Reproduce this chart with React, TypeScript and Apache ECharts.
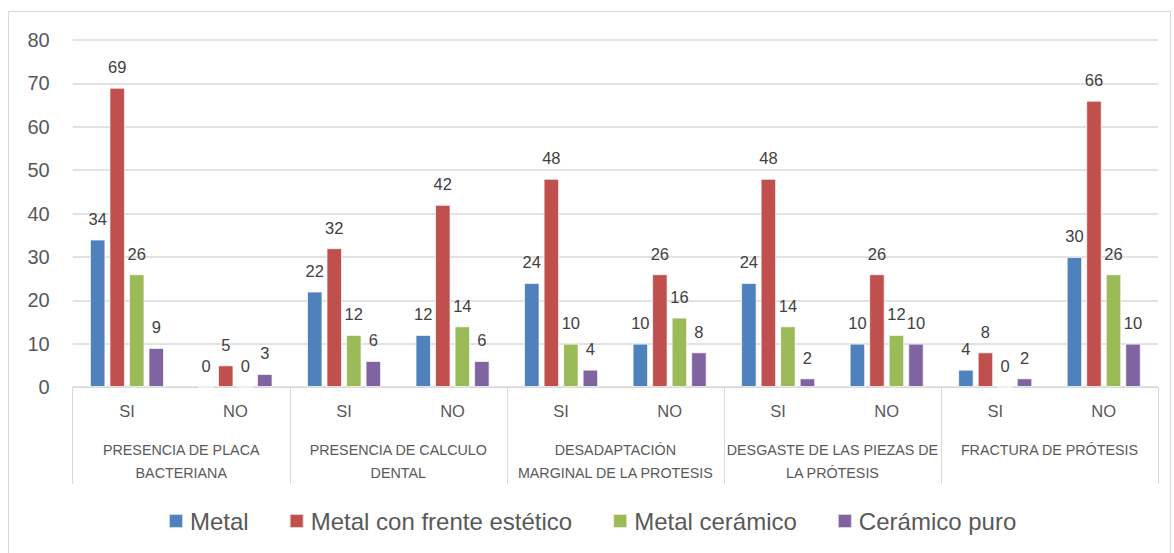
import React, { useEffect, useRef } from "react";
import * as echarts from "echarts";

const subCategories = ["SI", "NO", "SI", "NO", "SI", "NO", "SI", "NO", "SI", "NO"];
const groupCategories = [
  "PRESENCIA DE PLACA\nBACTERIANA",
  "PRESENCIA DE CALCULO\nDENTAL",
  "DESADAPTACIÓN\nMARGINAL DE LA PROTESIS",
  "DESGASTE DE LAS PIEZAS DE\nLA PRÓTESIS",
  "FRACTURA DE PRÓTESIS",
];
const seriesNames = ["Metal", "Metal con frente estético", "Metal cerámico", "Cerámico puro"];
const metal = [34, 0, 22, 12, 24, 10, 24, 10, 4, 30];
const metalFrente = [69, 5, 32, 42, 48, 26, 48, 26, 8, 66];
const metalCeramico = [26, 0, 12, 14, 10, 16, 14, 12, 0, 26];
const ceramicoPuro = [9, 3, 6, 6, 4, 8, 2, 10, 2, 10];
const colors = ["#4F81BD", "#C0504D", "#9BBB59", "#8064A2"];

const sans = "'Liberation Sans', Arial, sans-serif";

export default function App() {
  const ref = useRef<HTMLDivElement>(null);
  useEffect(() => {
    if (!ref.current) return;
    const chart = echarts.init(ref.current, null, { renderer: "svg" });
    const values = [metal, metalFrente, metalCeramico, ceramicoPuro];
    chart.setOption({
      animation: false,
      backgroundColor: "#ffffff",
      graphic: [
        {
          type: "rect",
          shape: { x: 8.5, y: 11.5, width: 1162, height: 560 },
          style: { fill: "none", stroke: "#d9d9d9", lineWidth: 1 },
          silent: true,
          z: -10,
        },
      ],
      grid: { left: 72.7, right: 16, top: 40, bottom: 166, containLabel: false },
      legend: {
        left: 163,
        top: 504,
        itemWidth: 14,
        itemHeight: 14,
        itemGap: 40,
        icon: "rect",
        textStyle: { fontFamily: sans, fontSize: 24, color: "#595959", padding: [0, 0, 0, 2] },
        data: seriesNames,
      },
      xAxis: [
        {
          type: "category",
          position: "bottom",
          data: subCategories,
          axisLine: { show: false },
          axisTick: { show: false },
          axisLabel: {
            interval: 0,
            margin: 15,
            fontFamily: sans,
            fontSize: 16.5,
            color: "#595959",
          },
        },
        {
          type: "category",
          position: "bottom",
          data: groupCategories,
          axisLine: { show: true, lineStyle: { color: "#d9d9d9", width: 1 } },
          axisTick: { show: true, length: 97, interval: 0, lineStyle: { color: "#d9d9d9", width: 1 } },
          axisLabel: {
            interval: 0,
            margin: 51,
            fontFamily: sans,
            fontSize: 14.3,
            lineHeight: 23,
            color: "#595959",
          },
          splitLine: { show: false },
        },
      ],
      yAxis: {
        type: "value",
        min: 0,
        max: 80,
        interval: 10,
        axisLine: { show: false },
        axisTick: { show: false },
        axisLabel: { margin: 23, fontFamily: sans, fontSize: 20, color: "#595959" },
        splitLine: { lineStyle: { color: "#d9d9d9", width: 1.5 } },
      },
      series: seriesNames.map((name, i) => ({
        name,
        type: "bar",
        xAxisIndex: 0,
        data: values[i],
        barWidth: 15.5,
        barGap: "26%",
        itemStyle: { color: colors[i], borderColor: "rgba(255,255,255,0.7)", borderWidth: 1 },
        label: {
          show: true,
          position: "top",
          distance: 12,
          fontFamily: sans,
          fontSize: 16.5,
          color: "#404040",
        },
      })),
    });
    return () => chart.dispose();
  }, []);
  return (
    <div
      ref={ref}
      style={{ position: "absolute", left: 0, top: 0, width: 1174, height: 553 }}
    />
  );
}
